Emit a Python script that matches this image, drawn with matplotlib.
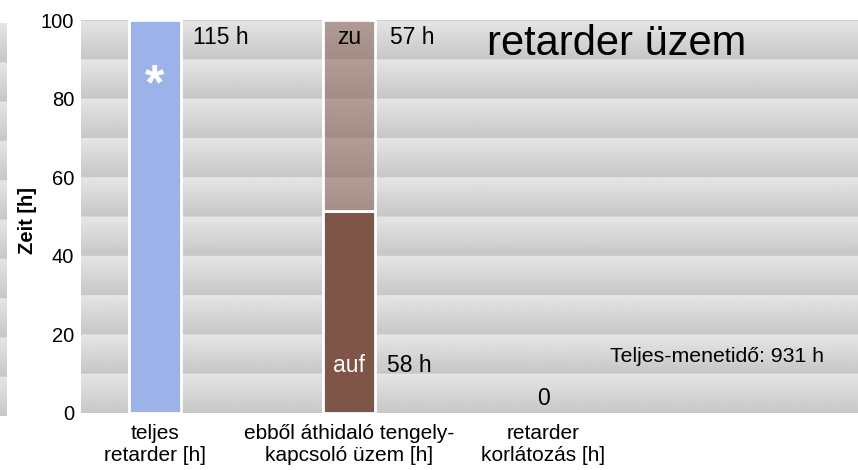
import numpy as np
import matplotlib
matplotlib.use("Agg")
import matplotlib.pyplot as plt

plt.rcParams['font.family'] = ['Liberation Sans', 'DejaVu Sans']

# categories and bar heights (y axis is cut at 100)
categories = ['teljes\nretarder [h]',
              'ebből áthidaló tengely-\nkapcsoló üzem [h]',
              'retarder\nkorlátozás [h]']
teljes = [100, 0, 0]        # 115 h, clipped by the axis
auf = [0, 51.5, 0]
zu = [0, 48.5, 0]
yticks = [0, 20, 40, 60, 80, 100]

def band_image(n_bands=10, rows=40, light=229, dark=199):
    # one band goes from dark (bottom) to light (top)
    one = np.linspace(dark, light, rows) / 255.0
    col = np.tile(one, n_bands)
    return np.repeat(col[:, None], 2, axis=1)

fig = plt.figure(figsize=(8.58, 4.70), dpi=100)
ax = fig.add_axes([81 / 858, 1 - 413 / 470, 1 - 81 / 858, (413 - 20) / 470])

x = np.arange(len(categories))
xlim = (-0.38, 3.62)
ax.imshow(band_image(), cmap='gray', vmin=0, vmax=1, origin='lower',
          extent=[xlim[0], xlim[1], 0, 100], aspect='auto', zorder=0,
          interpolation='bilinear')
ax.axhline(100, color='#cfcfcf', lw=1.5, zorder=1)

w = 0.265
def draw(vals, bottom, color):
    vals = np.asarray(vals, float)
    keep = vals > 0
    ax.bar(x[keep], vals[keep], w, bottom=np.asarray(bottom, float)[keep],
           color=color, edgecolor='white', lw=2, zorder=2)

draw(teljes, [0, 0, 0], '#9bb3e8')
draw(auf, [0, 0, 0], '#7f5548')
draw(zu, auf, (0.50, 0.33, 0.28, 0.5))

ax.set_xlim(*xlim)
ax.set_ylim(0, 100)
ax.set_yticks(yticks)
ax.set_xticks(x)
ax.set_xticklabels(categories, fontsize=15)
ax.tick_params(length=0)
ax.tick_params(axis='y', pad=5, labelsize=14.5)
ax.tick_params(axis='x', pad=8)
for s in ax.spines.values():
    s.set_visible(False)
ax.set_ylabel('Zeit [h]', fontsize=14.5, fontweight='bold')
ax.yaxis.set_label_coords(-0.057, 0.49)

fs = 16.5
ax.text(0, 83, '*', color='white', ha='center', va='center', fontsize=36,
        fontweight='bold', zorder=3)
ax.text(0.196, 95.5, '115 h', ha='left', va='center', fontsize=fs, zorder=3)
ax.text(1.0, 95.5, 'zu', ha='center', va='center', fontsize=fs, zorder=3)
ax.text(1.211, 95.5, '57 h', ha='left', va='center', fontsize=fs, zorder=3)
ax.text(1.711, 94.0, 'retarder üzem', ha='left', va='center', fontsize=30, zorder=3)
ax.text(1.0, 12.1, 'auf', color='white', ha='center', va='center', fontsize=fs, zorder=3)
ax.text(1.196, 12.1, '58 h', ha='left', va='center', fontsize=fs, zorder=3)
ax.text(2.0, 3.6, '0', ha='center', va='center', fontsize=fs, zorder=3)
ax.text(2.345, 14.5, 'Teljes-menetidő: 931 h', ha='left', va='center',
        fontsize=15.3, zorder=3)

# piece of a neighbouring chart at the left edge
ax2 = fig.add_axes([0, 1 - 416 / 470, 7 / 858, (416 - 23) / 470])
ax2.imshow(band_image(), cmap='gray', vmin=0, vmax=1, origin='lower',
           extent=[0, 1, 0, 100], aspect='auto', interpolation='bilinear')
ax2.set_axis_off()

fig.savefig('out.png', dpi=100)
